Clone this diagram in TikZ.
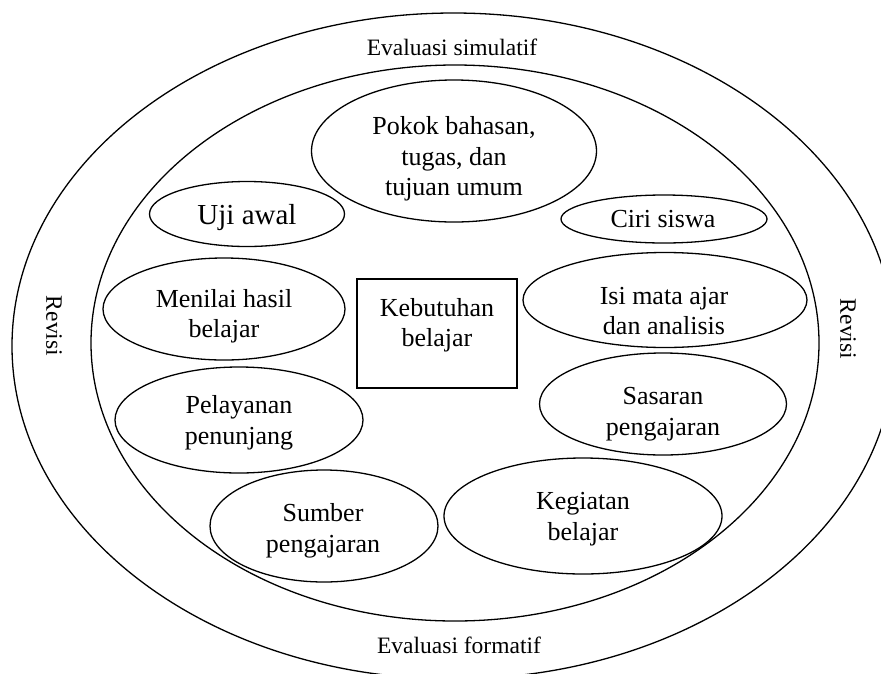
\documentclass[tikz,border=0pt]{standalone}
\usepackage{fontspec}
\setmainfont{Liberation Serif}
\usetikzlibrary{shapes.geometric}
\begin{document}
\begin{tikzpicture}[x=1pt,y=-1pt, line width=1.3pt,
  oval/.style={draw, ellipse, inner sep=0pt},
  txt/.style={font=\fontsize{26}{30.5}\selectfont, align=center, inner sep=0pt},
  lbl/.style={font=\fontsize{23.5}{28}\selectfont, inner sep=0pt}]
\useasboundingbox (0,0) rectangle (881,673);
% rings
\node[oval, minimum width=883pt, minimum height=666pt] (outer) at (453.5,346) {};
\node[oval, minimum width=728pt, minimum height=556pt] (inner) at (455,343) {};
% labels between rings
\node[lbl] (evs) at (452,47) {Evaluasi simulatif};
\node[lbl] (evf) at (459,645) {Evaluasi formatif};
\node[lbl, rotate=-90] (revl) at (54,326) {Revisi};
\node[lbl, rotate=-90] (revr) at (848,329) {Revisi};
% ellipses
\node[oval, minimum width=285pt, minimum height=142pt] (pokok) at (454,151) {};
\node[oval, minimum width=195pt, minimum height=65pt] (uji) at (247,214) {};
\node[oval, minimum width=206pt, minimum height=48pt] (ciri) at (664,219) {};
\node[oval, minimum width=242pt, minimum height=102pt] (menilai) at (224,309) {};
\node[oval, minimum width=284pt, minimum height=95pt] (isi) at (665,300) {};
\node[oval, minimum width=248pt, minimum height=106pt] (pelayanan) at (239,420) {};
\node[oval, minimum width=247pt, minimum height=102pt] (sasaran) at (663,404) {};
\node[oval, minimum width=228pt, minimum height=112pt] (sumber) at (324,526) {};
\node[oval, minimum width=278pt, minimum height=116pt] (kegiatan) at (583,516) {};
\node[draw, rectangle, inner sep=0pt, minimum width=160pt, minimum height=109pt] (kebutuhan) at (437,333.5) {};
% texts
\node[txt] (tpokok) at (454,159) {Pokok bahasan,\\tugas, dan\\tujuan umum};
\node[txt, font=\fontsize{29}{33}\selectfont] (tuji) at (247,218) {Uji awal};
\node[txt] (tciri) at (663,219) {Ciri siswa};
\node[txt] (tmenilai) at (224,316) {Menilai hasil\\belajar};
\node[txt] (tkeb) at (437,325) {Kebutuhan\\belajar};
\node[txt] (tisi) at (664,311) {Isi mata ajar\\dan analisis};
\node[txt] (tpel) at (239,423) {Pelayanan\\penunjang};
\node[txt] (tsas) at (663,414) {Sasaran\\pengajaran};
\node[txt] (tsum) at (323,531) {Sumber\\pengajaran};
\node[txt] (tkeg) at (583,519) {Kegiatan\\belajar};
\end{tikzpicture}
\end{document}
